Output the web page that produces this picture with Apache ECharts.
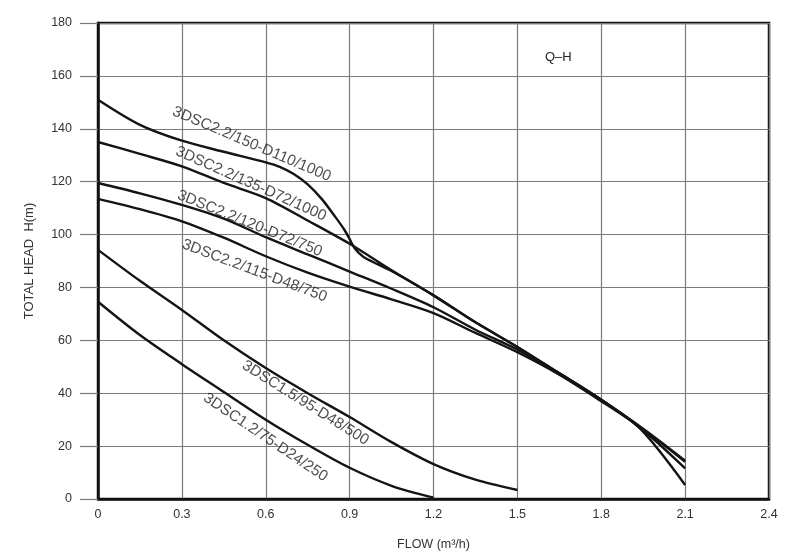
<!DOCTYPE html>
<html>
<head>
<meta charset="utf-8">
<script src="https://cdn.jsdelivr.net/npm/echarts@6/dist/echarts.min.js"></script>
<style>
html,body{margin:0;padding:0;background:#fff;}
#chart{width:800px;height:557px;}
</style>
</head>
<body>
<div id="chart"></div>
<script>
// ---- data ----
var xTicks = [0, 0.3, 0.6, 0.9, 1.2, 1.5, 1.8, 2.1, 2.4];
var yTicks = [0, 20, 40, 60, 80, 100, 120, 140, 160, 180];

var names = [
  '3DSC2.2/150-D110/1000',
  '3DSC2.2/135-D72/1000',
  '3DSC2.2/120-D72/750',
  '3DSC2.2/115-D48/750',
  '3DSC1.5/95-D48/500',
  '3DSC1.2/75-D24/250'
];

var flow1 = [0, 0.15, 0.3, 0.45, 0.6, 0.65, 0.7, 0.75, 0.8, 0.85, 0.88, 0.9, 0.92, 0.95, 1.0, 1.05, 1.2, 1.35, 1.5, 1.65, 1.8, 1.94, 2.1];
var head1 = [151, 141.5, 135.5, 131.3, 127.3, 125.6, 122.9, 119, 113.5, 106.5, 102, 98.3, 94.5, 91.5, 88.8, 86.2, 77, 66.8, 57.5, 47.5, 37.5, 26.5, 5.3];

var flow2 = [0, 0.15, 0.3, 0.45, 0.6, 0.75, 0.9, 1.05, 1.2, 1.35, 1.5, 1.65, 1.8, 1.95, 2.1];
var head2 = [135, 130.5, 125.8, 119.5, 113.8, 105.3, 96.5, 86.5, 77, 66.8, 57.5, 47.5, 37.5, 26, 11.6];

var flow3 = [0, 0.15, 0.3, 0.45, 0.6, 0.75, 0.9, 1.05, 1.2, 1.35, 1.5, 1.65, 1.8, 1.95, 2.1];
var head3 = [119.5, 115.6, 111.2, 106, 99, 92.5, 86, 79.5, 72.5, 64, 56.5, 47.5, 37.5, 26.5, 14.1];

var flow4 = [0, 0.15, 0.3, 0.45, 0.6, 0.75, 0.9, 1.05, 1.2, 1.35, 1.5, 1.65, 1.8, 1.95, 2.1];
var head4 = [113.5, 109.6, 105, 98.8, 91.8, 85.6, 80.3, 75.5, 70.3, 62.8, 55.5, 47, 37, 26.5, 14.5];

var flow5 = [0, 0.15, 0.3, 0.45, 0.6, 0.75, 0.9, 1.05, 1.2, 1.35, 1.5];
var head5 = [94.2, 82.5, 71.5, 60, 49.5, 40, 31, 21.5, 13.2, 7.3, 3.4];

var flow6 = [0, 0.15, 0.3, 0.45, 0.6, 0.75, 0.9, 1.05, 1.2];
var head6 = [74.6, 62, 51, 40.5, 30, 20.5, 11.8, 5, 0.5];

// ---- build ----
var flows = [flow1, flow2, flow3, flow4, flow5, flow6];
var heads = [head1, head2, head3, head4, head5, head6];

// caption anchors (data coords) and rotation
var labelSpots = [
  {at: [0.55, 134.2], rot: -23},
  {at: [0.547, 119.2], rot: -24},
  {at: [0.543, 104.2], rot: -22},
  {at: [0.56, 86.3], rot: -20.5},
  {at: [0.742, 36.3], rot: -32},
  {at: [0.599, 23.3], rot: -34}
];

var FONT = 'Liberation Sans, Arial, Helvetica, sans-serif';
var series = [];
flows.forEach(function (f, i) {
  series.push({
    type: 'line',
    name: names[i],
    data: f.map(function (x, k) { return [x, heads[i][k]]; }),
    showSymbol: false,
    smooth: 0.3,
    lineStyle: {color: '#141414', width: 2.4},
    silent: true,
    z: 3
  });
});
names.forEach(function (n, i) {
  series.push({
    type: 'scatter',
    symbolSize: 0,
    silent: true,
    data: [{value: labelSpots[i].at}],
    label: {
      show: true,
      position: 'inside',
      formatter: n,
      rotate: labelSpots[i].rot,
      color: '#222',
      fontFamily: FONT,
      fontSize: 15.3,
      align: 'center',
      verticalAlign: 'middle'
    },
    z: 4
  });
});

var chart = echarts.init(document.getElementById('chart'), null, {renderer: 'canvas'});
chart.setOption({
  animation: false,
  backgroundColor: '#fff',
  grid: {left: 98, right: 31, top: 23, bottom: 58, show: true, borderColor: '#111', borderWidth: 2.5, backgroundColor: 'transparent'},
  graphic: [{
    type: 'text',
    left: 545,
    top: 51,
    style: {text: 'Q\u2013H', fill: '#222', font: '13px ' + FONT}
  }],
  xAxis: {
    type: 'value',
    min: 0, max: 2.4, interval: 0.3,
    name: 'FLOW (m\u00b3/h)',
    nameLocation: 'middle',
    nameGap: 39,
    nameTextStyle: {color: '#333', fontSize: 12.5, fontFamily: FONT},
    axisLine: {show: true, lineStyle: {color: '#111', width: 2.5}},
    axisTick: {show: false},
    axisLabel: {color: '#333', fontSize: 12.5, fontFamily: FONT, margin: 9,
      formatter: function (v) { var i = xTicks.indexOf(Math.round(v * 10) / 10); return i >= 0 ? String(xTicks[i]) : ''; }},
    splitLine: {show: true, lineStyle: {color: '#7a7a7a', width: 1.2}}
  },
  yAxis: {
    type: 'value',
    min: 0, max: 180, interval: 20,
    name: 'TOTAL HEAD  H(m)',
    nameLocation: 'middle',
    nameGap: 62,
    nameTextStyle: {color: '#333', fontSize: 13, fontFamily: FONT},
    axisLine: {show: true, lineStyle: {color: '#111', width: 2.5}},
    axisTick: {show: true, length: 18, lineStyle: {color: '#7a7a7a', width: 1.2}},
    axisLabel: {color: '#333', fontSize: 12.5, fontFamily: FONT, margin: 26,
      formatter: function (v) { return yTicks.indexOf(v) >= 0 ? String(v) : ''; }},
    splitLine: {show: true, lineStyle: {color: '#7a7a7a', width: 1.2}}
  },
  series: series
});
</script>
</body>
</html>
